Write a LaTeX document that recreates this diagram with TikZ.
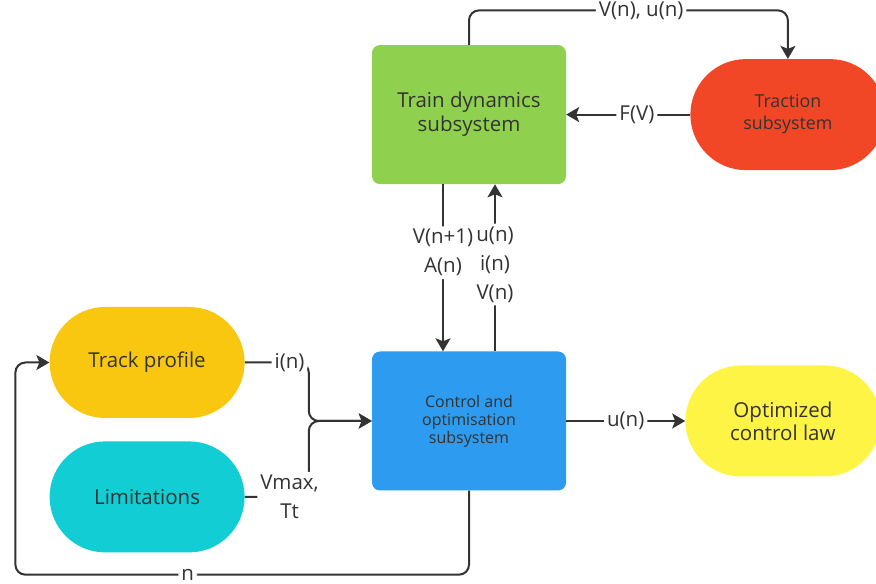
\documentclass[tikz,border=0pt]{standalone}
\usepackage{fontspec}
\setmainfont{Open Sans}
\usepackage{xcolor}
\usepackage{tikz}
\usetikzlibrary{arrows.meta, positioning, shapes.misc}
\definecolor{boxgreen}{HTML}{8FD14F}
\definecolor{boxred}{HTML}{F24726}
\definecolor{boxblue}{HTML}{2D9BF0}
\definecolor{boxorange}{HTML}{FAC710}
\definecolor{boxcyan}{HTML}{12CDD4}
\definecolor{boxyellow}{HTML}{FEF445}
\definecolor{ink}{HTML}{333333}
\tikzstyle{arrow} = [line width=2pt, draw=ink, rounded corners=10pt, -{Stealth[length=13pt, width=15pt, inset=3pt]}]

\begin{document}
\begin{tikzpicture}[
    x=1pt, y=1pt,
    node distance=0pt,
    block/.style={rectangle, rounded corners=8pt, minimum width=194pt, minimum height=139pt, inner sep=0pt, align=center, text=ink},
    pill/.style={rounded rectangle, rounded rectangle arc length=180, minimum width=195pt, minimum height=111pt, inner sep=0pt, align=center, text=ink},
    lab/.style={fill=white, text=ink, inner sep=3pt, align=center, font=\fontsize{20.5}{29}\selectfont}
]
\useasboundingbox[fill=white] (0,0) rectangle (876,584);

% Nodes
\node[block, fill=boxblue, font=\fontsize{16}{18}\selectfont] (control) at (469,163) {Control and\\optimisation\\subsystem};
\node[block, fill=boxgreen, above=167pt of control, font=\fontsize{20.5}{24}\selectfont] (train) {Train dynamics\\subsystem};
\node[pill, fill=boxred, right=124pt of train, font=\fontsize{17.8}{22}\selectfont] (traction) {Traction\\subsystem};
\node[pill, fill=boxyellow, right=119pt of control, font=\fontsize{20.5}{23}\selectfont] (optimal) {Optimized\\control law};
\node[pill, fill=boxorange, left=127pt of control, yshift=58.5pt, font=\fontsize{20.5}{23}\selectfont] (track) {Track profile};
\node[pill, fill=boxcyan, below=23pt of track, font=\fontsize{20.5}{23}\selectfont] (limits) {Limitations};

% Draw arrows
\draw[arrow] (train.north) -- ++(0,34.5) -| node[lab, pos=0.27] {V(n), u(n)} (traction.north);
\draw[arrow] (traction.west) -- node[lab, pos=0.43] {F(V)} (train.east);
\draw[arrow] ([xshift=-26pt]train.south) -- node[lab, pos=0.41] {V(n+1)\\A(n)} ([xshift=-26pt]control.north);
\draw[arrow] ([xshift=26pt]control.north) -- node[lab, pos=0.52] {u(n)\\i(n)\\V(n)} ([xshift=26pt]train.south);
\draw[arrow] (control.east) -- node[lab] {u(n)} (optimal.west);

% Inputs to control
\draw[arrow] (track.east) -- node[lab, pos=0.7, minimum height=29pt] {i(n)} ++(64,0) |- (control.west);
\draw[arrow] (limits.east) -- node[lab, pos=0.7] {Vmax,\\Tt} ++(64,0) |- (control.west);

% Feedback
\draw[arrow] (control.south) -- ++(0,-84) -| node[lab, pos=0.31, inner ysep=1pt] {n} ([xshift=-34pt]track.west) -- (track.west);

\end{tikzpicture}
\end{document}
